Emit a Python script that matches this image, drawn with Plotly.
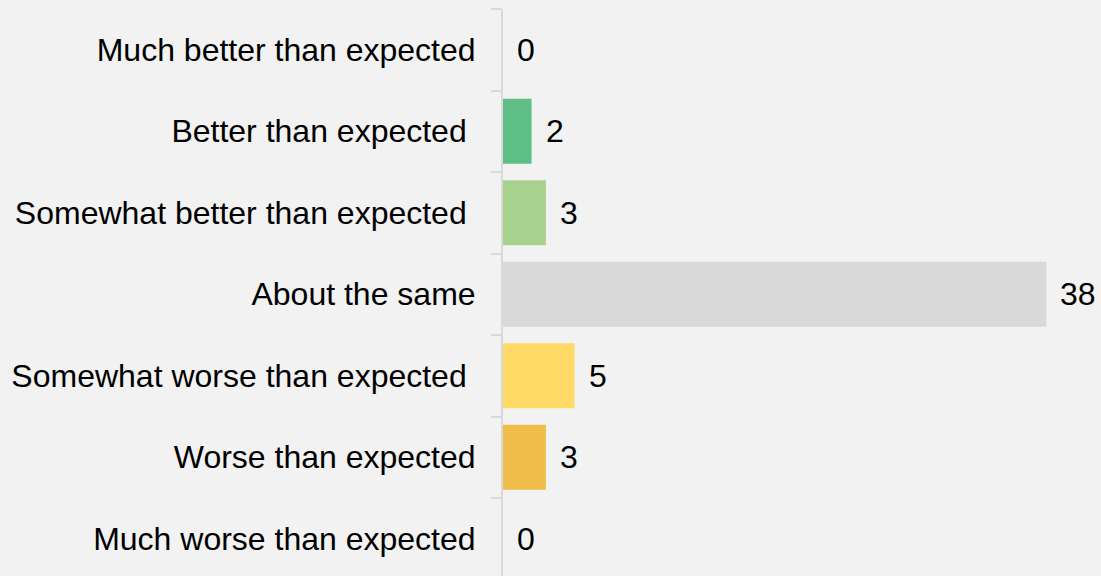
import plotly.graph_objects as go

categories = [
    "Much better than expected",
    "Better than expected",
    "Somewhat better than expected",
    "About the same",
    "Somewhat worse than expected",
    "Worse than expected",
    "Much worse than expected",
]
tick_labels = [
    "Much better than expected",
    "Better than expected\u00a0",
    "Somewhat better than expected\u00a0",
    "About the same",
    "Somewhat worse than expected\u00a0",
    "Worse than expected",
    "Much worse than expected",
]
values = [0, 2, 3, 38, 5, 3, 0]
bar_colors = ["#5fbf86", "#5fbf86", "#a9d18e", "#d9d9d9", "#ffd966", "#f1bd4a", "#f1bd4a"]

FONT = "Liberation Sans, Arial, sans-serif"
FS = 32

fig = go.Figure(
    go.Bar(
        y=categories,
        x=values,
        orientation="h",
        marker=dict(color=bar_colors, line=dict(width=0)),
        hoverinfo="skip",
    )
)

for c, v in zip(categories, values):
    fig.add_annotation(
        x=v, y=c, xref="x", yref="y", text=str(v), showarrow=False,
        xanchor="left", yanchor="middle", xshift=12,
        font=dict(family=FONT, size=FS, color="#000000"),
    )

fig.update_layout(
    width=1101, height=576,
    margin=dict(l=503, r=26, t=9, b=0),
    paper_bgcolor="#f2f2f2", plot_bgcolor="#f2f2f2",
    bargap=0.2,
    showlegend=False,
    font=dict(family=FONT, size=FS, color="#000000"),
)
fig.update_xaxes(
    range=[0, 40], showgrid=False, zeroline=False, showticklabels=False,
    ticks="", showline=False, fixedrange=True,
)
fig.update_yaxes(
    type="category", categoryorder="array", categoryarray=categories,
    tickmode="array", tickvals=categories, ticktext=tick_labels,
    range=[6.457, -0.5], showgrid=False, zeroline=False,
    showline=True, linecolor="#d9d9d9", linewidth=2,
    ticks="outside", tickson="boundaries", ticklen=10, tickwidth=2, tickcolor="#d9d9d9",
    ticklabelstandoff=19,
    tickfont=dict(family=FONT, size=FS, color="#000000"),
    fixedrange=True,
)

fig.write_html(
    "out.html",
    config={"displayModeBar": False},
    post_script="document.body.style.margin='0';document.body.style.overflow='hidden';",
)
